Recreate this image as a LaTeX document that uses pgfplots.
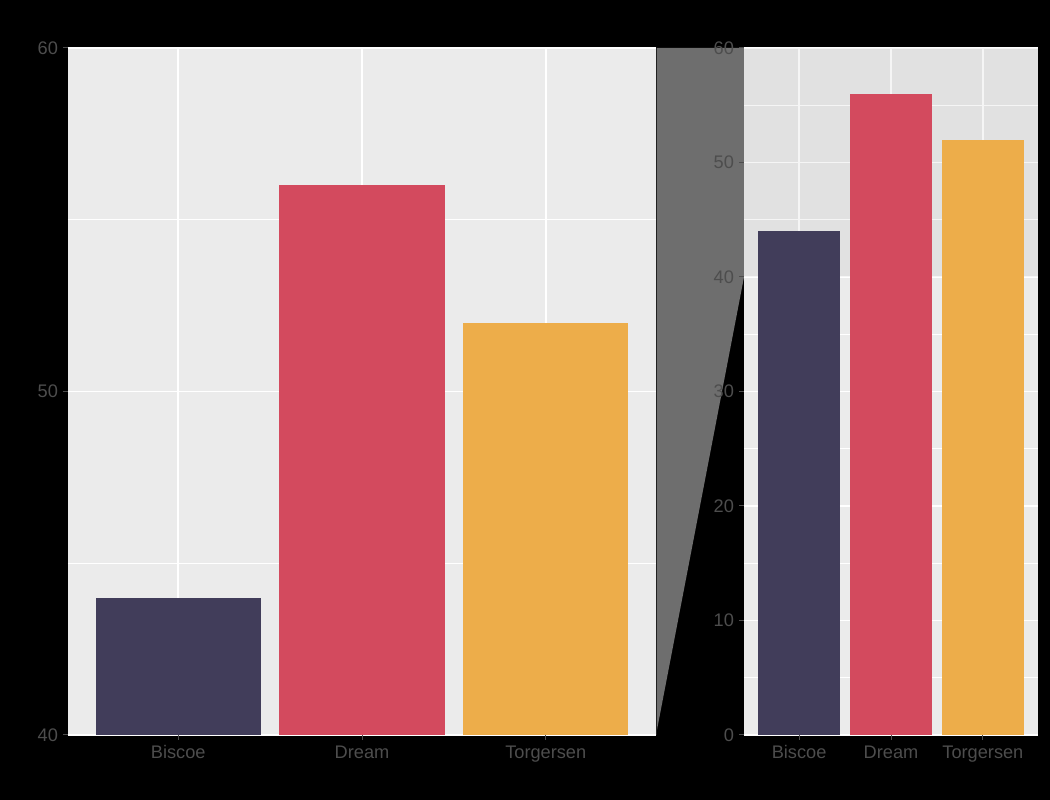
\documentclass[border=0pt]{standalone}
\usepackage{pgfplots}
\pgfplotsset{compat=1.18}
\usepackage{fontspec}
\setmainfont{Liberation Sans}
\definecolor{panel}{HTML}{EBEBEB}
\definecolor{tickc}{HTML}{4D4D4D}
\definecolor{cB}{HTML}{413D5A}
\definecolor{cD}{HTML}{D34A5E}
\definecolor{cT}{HTML}{EDAD4A}
\definecolor{zoomc}{HTML}{6E6E6E}
\pgfplotsset{
  ggbase/.style={
    scale only axis, height=687pt,
    anchor=south west,
    xmin=0.4, xmax=3.6,
    xtick={1,2,3}, xticklabels={Biscoe,Dream,Torgersen},
    axis background/.style={fill=panel},
    grid=both,
    major grid style={white, line width=1.6pt},
    minor grid style={white, line width=0.8pt},
    axis line style={draw=none},
    tick align=outside, tick pos=left,
    major tick length=5pt, minor tick length=0pt,
    tick style={tickc, line width=1pt},
    ticklabel style={font=\fontsize{18.2}{21}\selectfont, text=tickc},
    /pgf/number format/assume math mode=true,
    xticklabel style={text height=13pt, text depth=4pt, inner sep=2pt, yshift=-3pt},
    yticklabel style={xshift=-1.5pt},
  },
  gbar/.style={ybar, bar width=0.9, bar shift=0, draw=none, fill=#1},
}
\begin{document}
\begin{tikzpicture}
\fill[black] (0pt,0pt) rectangle (1050pt,800pt);
\fill[zoomc] (656pt,752pt) -- (744pt,752pt) -- (744pt,523pt) -- (656pt,65pt) -- cycle;
\draw[black!70!zoomc, line width=0.8pt] (656.4pt,752pt) -- (656.4pt,65pt);
\begin{axis}[ggbase, at={(68pt,65pt)}, width=588pt,
  ymin=40, ymax=60, ytick={40,50,60}, minor ytick={45,55}]
  \addplot[gbar=cB] coordinates {(1,44)};
  \addplot[gbar=cD] coordinates {(2,56)};
  \addplot[gbar=cT] coordinates {(3,52)};
\end{axis}
\begin{axis}[ggbase, at={(744pt,65pt)}, width=294pt,
  ymin=0, ymax=60, ytick={0,10,...,60}, minor ytick={5,15,...,55}]
  \addplot[draw=none, fill=black, fill opacity=0.04, forget plot]
    coordinates {(0.4,40) (3.6,40) (3.6,60) (0.4,60) (0.4,40)};
  \addplot[gbar=cB] coordinates {(1,44)};
  \addplot[gbar=cD] coordinates {(2,56)};
  \addplot[gbar=cT] coordinates {(3,52)};
\end{axis}
\end{tikzpicture}
\end{document}
